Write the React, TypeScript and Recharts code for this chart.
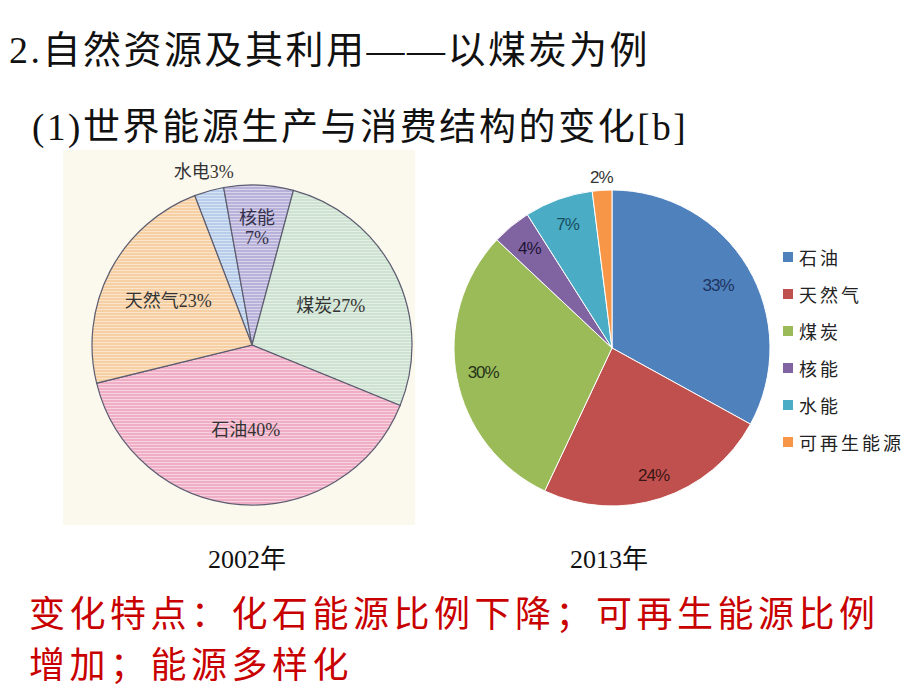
import { PieChart, Pie, Cell, Legend } from "recharts";

const names2002 = ["水电", "核能", "煤炭", "石油", "天然气"];
const values2002 = [3, 7, 27, 40, 23];
const names2013 = ["石油", "天然气", "煤炭", "核能", "水能", "可再生能源"];
const values2013 = [33, 24, 30, 4, 7, 2];

const colors2002 = ["#b7cdea", "#b8b2db", "#cde2d0", "#f0aec6", "#f6cfa2"];
const colors2013 = ["#4f81bd", "#c0504d", "#9bbb59", "#8064a2", "#4bacc6", "#f79646"];
const labelInk2013 = ["#1d3461", "#3a1515", "#26331a", "#1e1436", "#16505f", "#333333"];

// label distance from centre, as a share of the radius
const labelR2002 = [1.12, 0.74, 0.55, 0.53, 0.59];
const labelR2013 = [0.78, 0.85, 0.83, 0.82, 0.83, 1.08];

const RAD = Math.PI / 180;

const data2002 = names2002.map((name, i) => ({ name, value: values2002[i] }));
const data2013 = names2013.map((name, i) => ({ name, value: values2013[i] }));

const serif = "'Liberation Serif', 'Noto Sans CJK SC', serif";
const cjk = "'Noto Sans CJK SC', sans-serif";

function label2002(props: any) {
  const { cx, cy, midAngle, outerRadius, index, name, value } = props;
  const r = outerRadius * labelR2002[index];
  const x = cx + r * Math.cos(-midAngle * RAD);
  const y = cy + r * Math.sin(-midAngle * RAD);
  if (name === "核能") {
    return (
      <text x={x} y={y} textAnchor="middle" fill="#35304a" fontSize={18} fontFamily={serif}>
        <tspan x={x} dy={-3}>{name}</tspan>
        <tspan x={x} dy={20}>{value}%</tspan>
      </text>
    );
  }
  return (
    <text x={x} y={y} textAnchor="middle" dominantBaseline="central" fill="#333" fontSize={18} fontFamily={serif}>
      {name}
      {value}%
    </text>
  );
}

function label2013(props: any) {
  const { cx, cy, midAngle, outerRadius, index, value } = props;
  const r = outerRadius * labelR2013[index];
  const x = cx + r * Math.cos(-midAngle * RAD);
  const y = cy + r * Math.sin(-midAngle * RAD);
  return (
    <text x={x} y={y} textAnchor="middle" dominantBaseline="central" fill={labelInk2013[index]} fontSize={17} fontFamily="'Liberation Sans', Arial, sans-serif" letterSpacing={-1}>
      {value}%
    </text>
  );
}

function LegendBox(props: any) {
  const payload = props.payload || [];
  // keep the data order (the pie hands its entries over in its own order)
  const items = names2013.map((n) => payload.find((p: any) => p.value === n) || { value: n });
  return (
    <div>
      {items.map((p: any, i: number) => (
        <div key={p.value} style={{ display: "flex", alignItems: "center", height: 37 }}>
          <span style={{ width: 10, height: 10, background: colors2013[i], marginRight: 6 }} />
          <span style={{ fontFamily: cjk, fontSize: 18, letterSpacing: 3, color: "#222" }}>{p.value}</span>
        </div>
      ))}
    </div>
  );
}

export default function App() {
  return (
    <div style={{ position: "absolute", left: 0, top: 0, width: 920, height: 690, background: "#fff", overflow: "hidden" }}>
      <div style={{ position: "absolute", left: 9, top: 28, fontFamily: serif, fontSize: 38, letterSpacing: 2.5, lineHeight: "44px", color: "#111", whiteSpace: "nowrap" }}>
        2.自然资源及其利用——以煤炭为例
      </div>
      <div style={{ position: "absolute", left: 32, top: 106, fontFamily: serif, fontSize: 37, letterSpacing: 2.6, lineHeight: "44px", color: "#111", whiteSpace: "nowrap" }}>
        (1)世界能源生产与消费结构的变化[b]
      </div>

      <div style={{ position: "absolute", left: 63, top: 150, width: 352, height: 375, background: "#fbf8ee" }} />
      <div style={{ position: "absolute", left: 63, top: 150 }}>
        <PieChart width={360} height={380}>
          <defs>
            {colors2002.map((c, i) => (
              <pattern key={i} id={`hatch${i}`} width={6} height={3} patternUnits="userSpaceOnUse">
                <rect width={6} height={3} fill={c} />
                <line x1={0} y1={0.5} x2={6} y2={0.5} stroke="#ffffff" strokeOpacity={0.45} strokeWidth={1} />
              </pattern>
            ))}
          </defs>
          <Pie
            data={data2002}
            dataKey="value"
            nameKey="name"
            cx={184}
            cy={190}
            outerRadius={160}
            startAngle={111}
            endAngle={-249}
            stroke="#5d5d70"
            strokeWidth={1.2}
            label={label2002}
            labelLine={false}
            isAnimationActive={false}
          >
            {data2002.map((d, i) => (
              <Cell key={d.name} fill={`url(#hatch${i})`} />
            ))}
          </Pie>
        </PieChart>
      </div>

      <div style={{ position: "absolute", left: 430, top: 150 }}>
        <PieChart width={490} height={380}>
          <Pie
            data={data2013}
            dataKey="value"
            nameKey="name"
            cx={177}
            cy={193}
            outerRadius={158}
            startAngle={90}
            endAngle={-270}
            stroke="#ffffff"
            strokeWidth={1}
            label={label2013}
            labelLine={false}
            isAnimationActive={false}
          >
            {data2013.map((d, i) => (
              <Cell key={d.name} fill={colors2013[i]} />
            ))}
          </Pie>
          <Legend
            layout="vertical"
            content={<LegendBox />}
            wrapperStyle={{ left: 353, top: 88, width: 140 }}
          />
        </PieChart>
      </div>

      <div style={{ position: "absolute", left: 187, top: 538, width: 120, textAlign: "center", fontFamily: serif, fontSize: 26, color: "#111" }}>
        2002年
      </div>
      <div style={{ position: "absolute", left: 549, top: 538, width: 120, textAlign: "center", fontFamily: serif, fontSize: 26, color: "#111" }}>
        2013年
      </div>

      <div style={{ position: "absolute", left: 29, top: 586, fontFamily: cjk, fontSize: 36, letterSpacing: 4.5, lineHeight: "51px", color: "#c80000", whiteSpace: "nowrap" }}>
        <div>变化特点：化石能源比例下降；可再生能源比例</div>
        <div>增加；能源多样化</div>
      </div>
    </div>
  );
}
